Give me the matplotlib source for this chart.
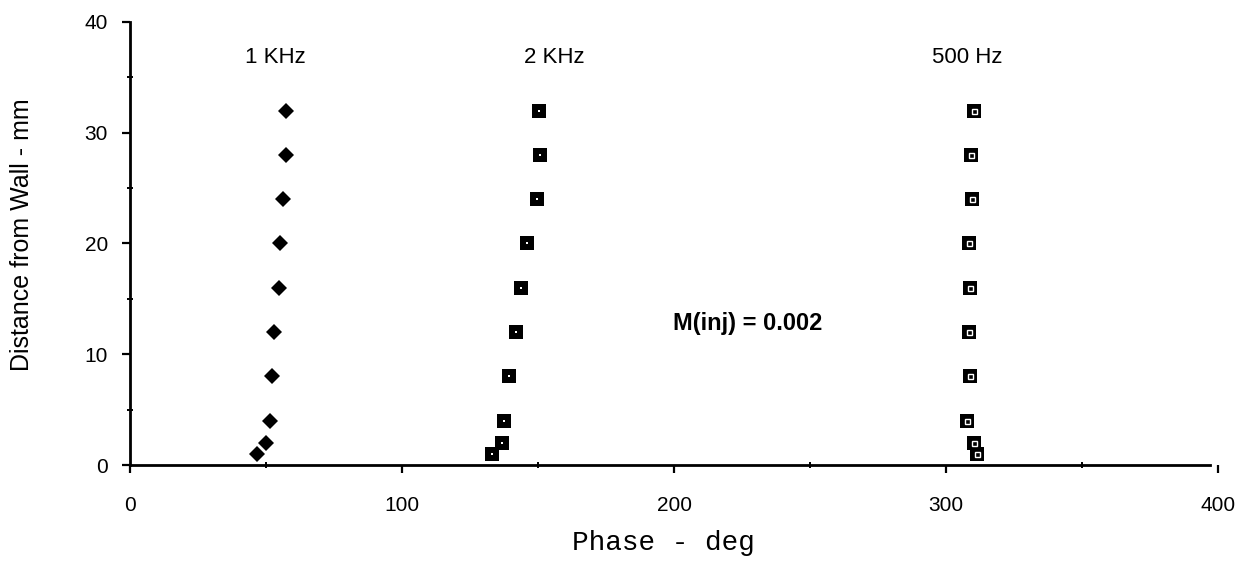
import numpy as np
import matplotlib.pyplot as plt
from matplotlib.ticker import MultipleLocator

# distance from wall, mm (same for every series)
dist = [32, 28, 24, 20, 16, 12, 8, 4, 2, 1]

phase_1k = [57.2, 57.4, 56.3, 55.1, 54.7, 52.8, 52.1, 51.4, 50.0, 46.8]
phase_2k = [150.5, 150.7, 149.7, 146.1, 143.8, 141.9, 139.2, 137.4, 136.8, 133.0]
phase_500 = [310.3, 309.1, 309.4, 308.3, 308.7, 308.6, 308.9, 307.8, 310.3, 311.3]

series_labels = ['1 KHz', '2 KHz', '500 Hz']
label_x = [53.5, 156, 308]
label_y = 36.8

plt.rcParams['font.family'] = ['Liberation Sans', 'DejaVu Sans']

fig = plt.figure(figsize=(12.47, 5.61), dpi=100)
ax = fig.add_axes([0.1043, 0.171, 0.8724, 0.790])

ax.plot(phase_1k, dist, 'D', color='black', ms=8.5, mew=0)

ax.plot(phase_2k, dist, 's', color='black', ms=9.5, mew=0)
ax.plot(phase_2k, dist, 's', color='white', ms=1.6, mew=0)

ax.plot(phase_500, dist, 's', color='black', ms=9.5, mew=0)
ax.plot(phase_500, dist, 's', mfc='none', mec='white', ms=3.6, mew=1.0)

for lab, lx in zip(series_labels, label_x):
    ax.text(lx, label_y, lab, ha='center', va='center', fontsize=16)

ax.text(227, 12.8, 'M(inj) = 0.002', ha='center', va='center',
        fontsize=17, fontweight='bold')

ax.set_xlim(0, 400)
ax.set_ylim(0, 40)
ax.spines['top'].set_visible(False)
ax.spines['right'].set_visible(False)
ax.spines['bottom'].set_bounds(0, 397)
for s in ('left', 'bottom'):
    ax.spines[s].set_linewidth(2)

ax.xaxis.set_major_locator(MultipleLocator(100))
ax.xaxis.set_minor_locator(MultipleLocator(50))
ax.yaxis.set_major_locator(MultipleLocator(10))
ax.yaxis.set_minor_locator(MultipleLocator(5))
ax.tick_params(which='major', direction='out', length=6, width=1.6,
               labelsize=15)
ax.tick_params(axis='x', which='major', pad=16)
ax.tick_params(axis='y', which='major', pad=10)
ax.tick_params(which='minor', direction='inout', length=4, width=1.4)

ax.set_xlabel('Phase - deg', family='Liberation Mono', fontsize=20)
ax.xaxis.label.set_va('center')
ax.xaxis.set_label_coords(0.49, -0.175)
ax.set_ylabel('Distance from Wall - mm', fontsize=18)
ax.yaxis.set_label_coords(-0.088, 0.52)

fig.savefig('out.png', dpi=100)
